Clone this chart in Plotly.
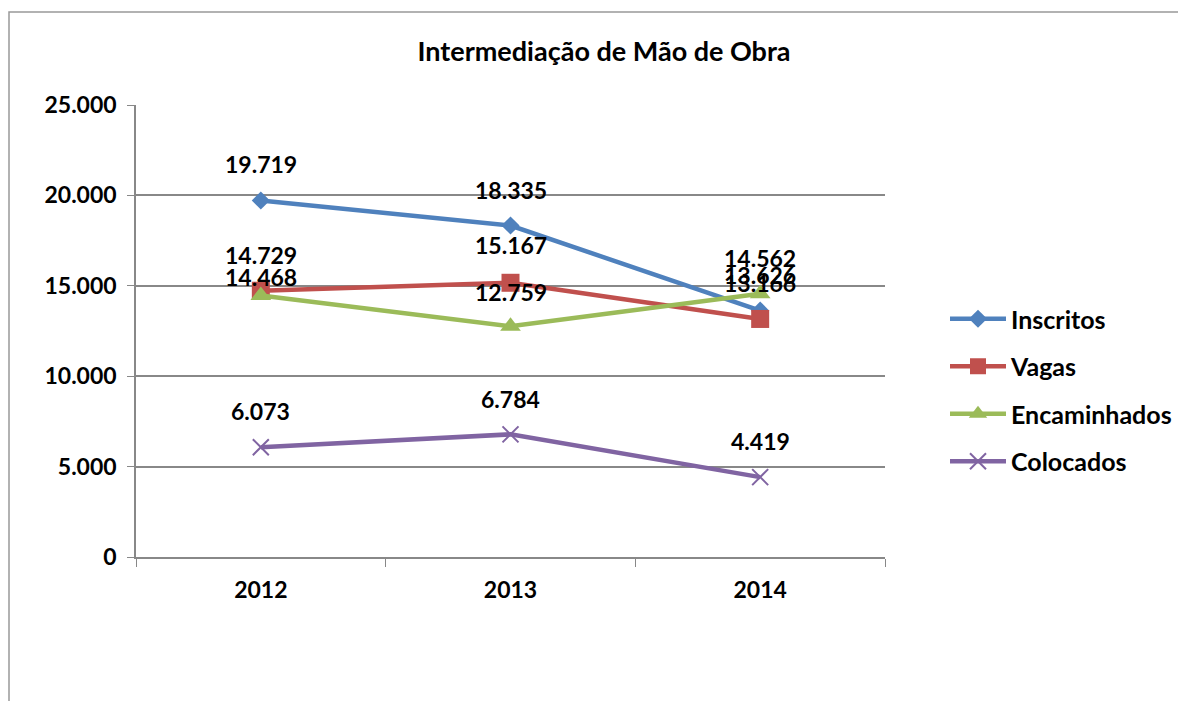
import plotly.graph_objects as go

years = ["2012", "2013", "2014"]
series_names = ["Inscritos", "Vagas", "Encaminhados", "Colocados"]
inscritos = [19719, 18335, 13626]
vagas = [14729, 15167, 13166]
encaminhados = [14468, 12759, 14562]
colocados = [6073, 6784, 4419]
y_ticks = [0, 5000, 10000, 15000, 20000, 25000]

values = [inscritos, vagas, encaminhados, colocados]
colors = ["#4F81BD", "#C0504D", "#9BBB59", "#8064A2"]
symbols = ["diamond", "square", "triangle-up", "x-thin-open"]
msizes = [14, 18, 18, 16]
label_shift = [[36, 36, 36], [36, 38, 36], [18, 34, 36], [36, 35, 36]]

FONT = "Lato"
OFF = 8  # page body margin
W, H = 1186 - OFF, 701 - OFF
X0, X1, Y0, Y1 = 136 - OFF, 885 - OFF, 105 - OFF, 557 - OFF
L, R, T, B = X0, W - X1, Y0, H - Y1

def fmt(v):
    return f"{v:,}".replace(",", ".")

fig = go.Figure()
annotations = []
for i, (name, vals) in enumerate(zip(series_names, values)):
    marker = dict(symbol=symbols[i], size=msizes[i], color=colors[i])
    if symbols[i].startswith("x"):
        marker["line"] = dict(color=colors[i], width=2)
    fig.add_trace(go.Scatter(
        x=years, y=vals, name=name, mode="lines+markers",
        line=dict(color=colors[i], width=4.5),
        marker=marker, legendgroup=name,
    ))
    for j, v in enumerate(vals):
        annotations.append(dict(
            x=j, y=v, xref="x", yref="y", text=fmt(v), showarrow=False,
            yshift=label_shift[i][j],
            font=dict(family=FONT, size=23, color="black", weight="bold"),
        ))

pw = X1 - X0
ph = Y1 - Y0
def px(x):
    return (x - OFF - X0) / pw
def py(y):
    return (Y1 - (y - OFF)) / ph

fig.update_layout(
    width=W, height=H,
    margin=dict(l=L, r=R, t=T, b=B, autoexpand=False),
    paper_bgcolor="white", plot_bgcolor="white",
    separators=",.",
    font=dict(family=FONT, size=18, color="black"),
    title=dict(text="<b>Intermediação de Mão de Obra</b>", x=(604 - OFF) / W, xanchor="center",
               y=1 - (52 - OFF) / H, yanchor="middle",
               font=dict(family=FONT, size=27, color="black")),
    showlegend=True,
    legend=dict(x=px(945), y=py(296), xanchor="left", yanchor="top",
                font=dict(family=FONT, size=25, color="black", weight="bold"),
                tracegroupgap=12, itemwidth=56, bgcolor="rgba(0,0,0,0)"),
    annotations=annotations,
    shapes=[dict(type="rect", xref="paper", yref="paper",
                 x0=px(9), x1=px(1200), y0=py(12), y1=py(720),
                 line=dict(color="#999999", width=1.5), layer="below")],
)
fig.update_xaxes(
    type="category", tickson="boundaries", ticks="outside", ticklen=8,
    tickcolor="#888888", showline=True, linecolor="#888888", linewidth=1.5,
    showgrid=False, range=[-0.5, 2.5], ticklabelstandoff=12,
    tickfont=dict(family=FONT, size=23, color="black", weight="bold"),
)
fig.update_yaxes(
    range=[0, 25000], tickvals=y_ticks, tickformat=",d", ticks="outside", ticklen=7,
    tickcolor="#888888", showline=True, linecolor="#888888", linewidth=1.5,
    showgrid=True, gridcolor="#888888", gridwidth=1.5, zeroline=False,
    ticklabelstandoff=6,
    tickfont=dict(family=FONT, size=23, color="black", weight="bold"),
)

fig.write_html("out.html")
